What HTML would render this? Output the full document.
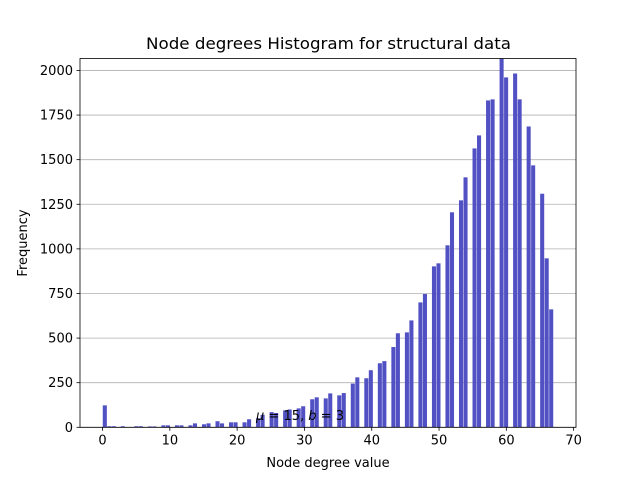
<!DOCTYPE html>
<html><head><meta charset="utf-8"><style>
html,body{margin:0;padding:0;background:#fff;}
svg{display:block;font-family:"DejaVu Sans","Liberation Sans",sans-serif;}
</style></head><body>
<svg id="chart" width="640" height="480" viewBox="0 0 640 480">
<rect x="0" y="0" width="640" height="480" fill="#fff"/>
<g id="grid"></g>
<g id="bars"></g>
<g id="axes"></g>
<text x="328.5" y="49" text-anchor="middle" font-size="16" textLength="365" lengthAdjust="spacingAndGlyphs" fill="#000">Node degrees Histogram for structural data</text>
<text x="328" y="467" text-anchor="middle" font-size="13" fill="#000">Node degree value</text>
<text x="27" y="243" text-anchor="middle" font-size="13" fill="#000" transform="rotate(-90 27 243)">Frequency</text>
<text x="300" y="420" text-anchor="middle" font-size="13" fill="#000"><tspan font-style="italic">μ</tspan> = 15, <tspan font-style="italic">b</tspan> = 3</text>
</svg>
<script>
const degrees = [0,1,2,3,4,5,6,7,8,9,10,11,12,13,14,15,16,17,18,19,20,21,22,23,24,25,26,27,28,29,30,31,32,33,34,35,36,37,38,39,40,41,42,43,44,45,46,47,48,49,50,51,52,53,54,55,56,57,58,59,60,61,62,63,64,65,66,67];
const counts = [123,6,6,6,0,6,6,5,5,11,11,11,11,11,22,17,22,34,22,28,28,28,45,50,70,85,80,95,100,106,118,157,168,162,190,179,192,245,280,275,320,359,371,450,527,532,599,700,747,902,919,1020,1205,1272,1401,1563,1636,1832,1838,2066,1961,1983,1838,1686,1468,1309,947,661];
const xTicks = [0,10,20,30,40,50,60,70];
const yTicks = [0,250,500,750,1000,1250,1500,1750,2000];

const L=80,R=576,T=58.5,B=427.3;
const xMin=-3.35,xMax=70.35,yMax=2067;
function sx(v){return L+(v-xMin)/(xMax-xMin)*(R-L);}
function sy(v){return B-v/yMax*(B-T);}
const NS='http://www.w3.org/2000/svg';
function mk(tag,attrs,parent){const e=document.createElementNS(NS,tag);for(const k in attrs)e.setAttribute(k,attrs[k]);parent.appendChild(e);return e;}
const grid=document.getElementById('grid'),bars=document.getElementById('bars'),axes=document.getElementById('axes');
const nb=100,dmin=0,dmax=67,bw=(dmax-dmin)/nb;
const binCounts=new Array(nb).fill(0);
degrees.forEach((d,i)=>{let b=Math.floor((d-dmin)/bw+1e-9);if(b>=nb)b=nb-1;binCounts[b]+=counts[i];});
yTicks.forEach(t=>{
  const y=sy(t);
  const g=mk('line',{x1:L,x2:R,y1:y,y2:y,stroke:'#b0b0b0','stroke-width':0.8},grid);
  
  
  const tk=mk('line',{x1:L-3.5,x2:L,y1:y,y2:y,stroke:'#000','stroke-width':0.8},axes);
  
  
  const tx=mk('text',{x:L-7,y:y+4.5,'text-anchor':'end','font-size':'13',fill:'#000'},axes);
  tx.textContent=t;
  
  
});
binCounts.forEach((c,b)=>{
  if(c<=0)return;
  const x0=dmin+b*bw+bw*0.05,x1=dmin+b*bw+bw*0.95;
  const r=mk('rect',{x:sx(x0),y:sy(c),width:sx(x1)-sx(x0),height:B-sy(c),fill:'#5151c4'},bars);
  
  
});
xTicks.forEach(t=>{
  const x=sx(t);
  const tk=mk('line',{x1:x,x2:x,y1:B,y2:B+3.5,stroke:'#000','stroke-width':0.8},axes);
  
  
  const tx=mk('text',{x:x,y:B+17,'text-anchor':'middle','font-size':'13',fill:'#000'},axes);
  tx.textContent=t;
  
  
});
const frame=mk('rect',{x:L,y:T,width:R-L,height:B-T,fill:'none',stroke:'#000','stroke-width':0.8},axes);


</script>
</body></html>
